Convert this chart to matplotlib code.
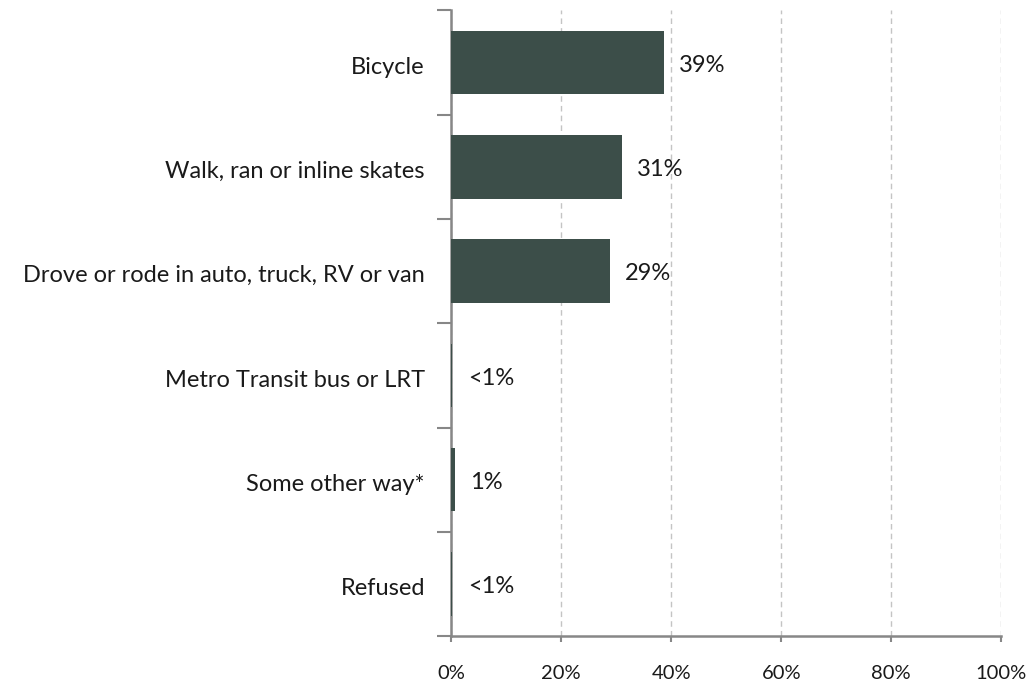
import matplotlib
matplotlib.use("Agg")
import matplotlib.pyplot as plt
import matplotlib.transforms as mtransforms
import numpy as np

# ---------------------------------------------------------------------------
# Data
# ---------------------------------------------------------------------------
categories = [
    "Bicycle",
    "Walk, ran or inline skates",
    "Drove or rode in auto, truck, RV or van",
    "Metro Transit bus or LRT",
    "Some other way*",
    "Refused",
]
shares = [38.7, 31.0, 28.8, 0.2, 0.6, 0.2]
share_labels = ["39%", "31%", "29%", "<1%", "1%", "<1%"]
x_ticks = [0, 20, 40, 60, 80, 100]
x_tick_labels = ["0%", "20%", "40%", "60%", "80%", "100%"]

CLR_BAR = "#3C4E49"
CLR_AXIS = "#878787"
CLR_GRID = "#C4C4C4"
CLR_TEXT = "#1A1A1A"

plt.rcParams["font.family"] = ["Lato", "DejaVu Sans"]

fig = plt.figure(figsize=(10.28, 6.84), dpi=100)
ax = fig.add_axes([0.439, 0.070, 0.535, 0.915])

y = np.arange(len(categories))
ax.barh(y, shares, height=0.61, color=CLR_BAR, zorder=3)

for yi, v, lab in zip(y, shares, share_labels):
    ax.annotate(lab, (v, yi), textcoords="offset points", xytext=(11, -2),
                ha="left", va="center", fontsize=17, color=CLR_TEXT)

ax.set_xlim(0, 100)
ax.set_ylim(len(categories) - 0.5, -0.5)

ax.set_xticks(x_ticks)
ax.set_xticklabels(x_tick_labels, fontsize=14.5, color=CLR_TEXT)
ax.tick_params(axis="x", length=4, width=1.5, color=CLR_AXIS, pad=17)

ax.set_yticks(y)
ax.set_yticklabels(categories, fontsize=17, color=CLR_TEXT)
ax.set_yticks(np.arange(-0.5, len(categories)), minor=True)
ax.tick_params(axis="y", which="major", length=0, pad=19)
ax.tick_params(axis="y", which="minor", length=10, width=1.5, color=CLR_AXIS)

# nudge category labels down a touch, like the original
shift = mtransforms.ScaledTranslation(0, -2 / 72, fig.dpi_scale_trans)
for lbl in ax.get_yticklabels():
    lbl.set_transform(lbl.get_transform() + shift)

ax.grid(axis="x", color=CLR_GRID, linestyle=(0, (4, 3)), linewidth=1.0, zorder=0)
ax.set_axisbelow(True)

for side in ("top", "right"):
    ax.spines[side].set_visible(False)
for side in ("left", "bottom"):
    ax.spines[side].set_color(CLR_AXIS)
    ax.spines[side].set_linewidth(1.8)

fig.savefig("out.png", dpi=100, facecolor="white")
